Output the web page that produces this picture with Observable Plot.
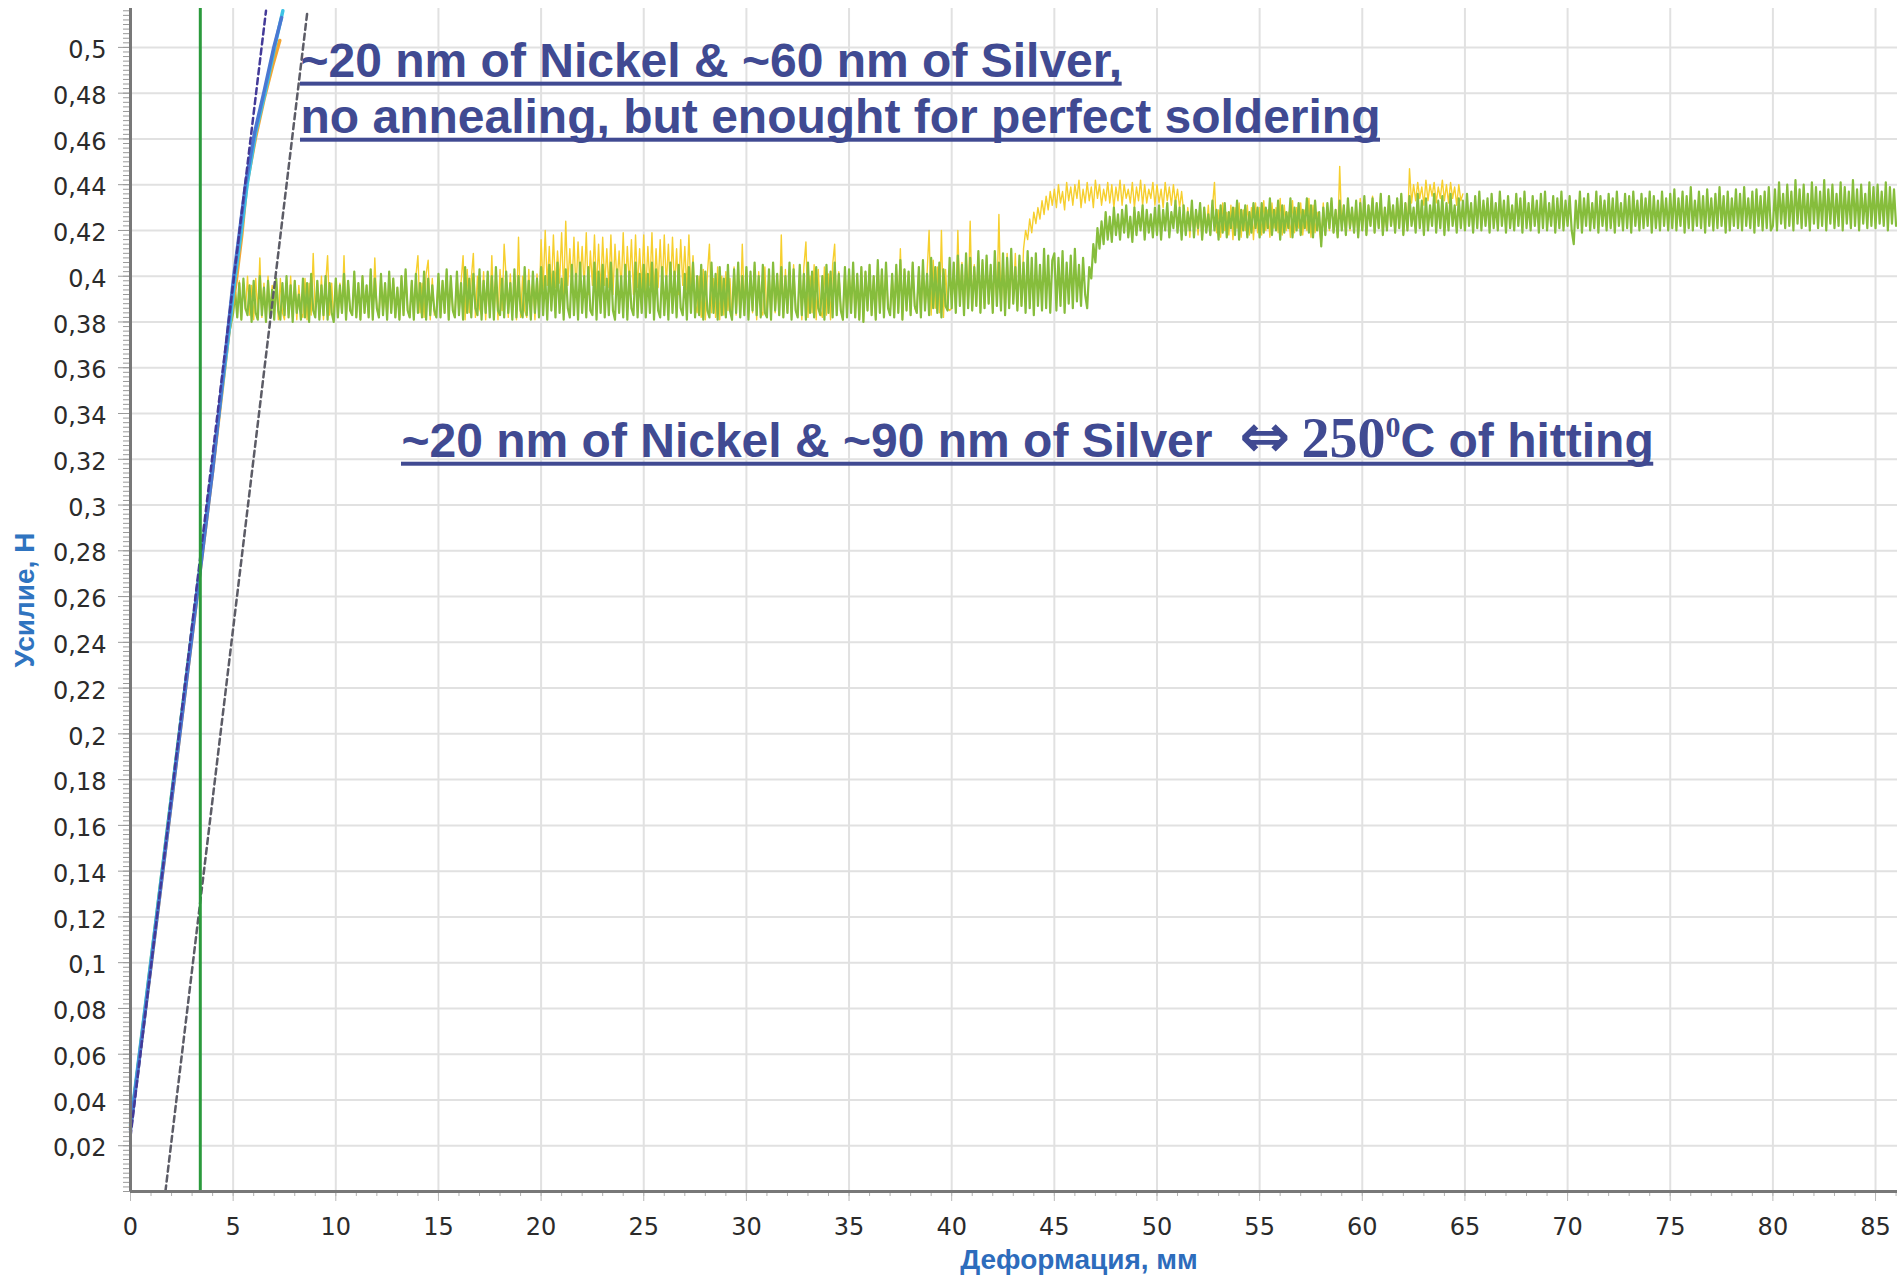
<!DOCTYPE html>
<html><head><meta charset="utf-8">
<script src="https://cdn.jsdelivr.net/npm/d3@7"></script>
<script src="https://cdn.jsdelivr.net/npm/@observablehq/plot@0.6"></script>
<style>
html,body{margin:0;padding:0;background:#fff;}
#chart{width:1897px;height:1275px;overflow:hidden;position:relative;}
</style></head><body><div id="chart"></div>
<script>
// ---------- tick values ----------
const xTicks = [0,5,10,15,20,25,30,35,40,45,50,55,60,65,70,75,80,85];
const yTicks = [0.02,0.04,0.06,0.08,0.1,0.12,0.14,0.16,0.18,0.2,0.22,0.24,0.26,0.28,0.3,0.32,0.34,0.36,0.38,0.4,0.42,0.44,0.46,0.48,0.5];
const xLabel = "Деформация, мм";
const yLabel = "Усилие, Н";

// ---------- rising (elastic) parts, x in mm, y in N ----------
const blueX   = [0,1,2,3,4,4.79,5.03,5.32,5.6,6.05,6.49,6.98,7.36];
const blueY   = [0.027,0.099,0.171,0.243,0.315,0.38,0.40,0.42,0.44,0.463,0.48,0.50,0.513];
const cyanX   = [0,1,2,3,4,4.85,5.1,5.4,5.68,6.1,6.55,7.02,7.42];
const cyanY   = [0.029,0.101,0.173,0.245,0.317,0.38,0.40,0.42,0.44,0.463,0.48,0.50,0.516];
const orangeX = [0,1,2,3,4,4.88,5.15,5.42,5.66,6.1,6.52,6.92,7.27];
const orangeY = [0.028,0.099,0.171,0.243,0.315,0.382,0.398,0.418,0.44,0.461,0.478,0.492,0.503];
const greenRiseX  = [0,1,2,3,4,4.7];
const greenRiseY  = [0.030,0.103,0.175,0.247,0.319,0.370];
const yellowRiseX = [0,1,2,3,4,4.75];
const yellowRiseY = [0.031,0.103,0.176,0.248,0.320,0.373];

// ---------- plateau samples (mN), first sample at 5.0 mm, every 0.1 mm ----------
const plateauStart = 5.0, plateauStep = 0.1;
const greenPlateauMilliN = [
384,393,382,397,381,399,386,383,396,380,398,384,381,400,383,395,380,398,382,394,381,399,385,381,397,383,400,382,396,380,398,384,392,381,399,382,397,380,401,385,382,398,381,396,383,400,381,397,384,380,
399,382,396,384,401,381,398,385,383,402,382,397,381,400,384,396,382,403,381,399,386,382,401,383,397,381,402,384,399,382,395,381,400,383,403,385,382,398,381,401,384,397,382,402,381,399,383,396,385,382,
401,382,398,384,403,381,400,385,382,402,383,397,381,404,384,399,382,401,386,383,403,381,398,384,402,382,400,381,404,385,383,399,382,402,384,397,381,403,382,400,385,382,404,383,398,381,402,384,399,382,
404,383,400,381,405,385,402,382,406,384,399,381,403,386,382,405,383,401,381,406,384,400,382,404,385,383,406,381,402,384,405,382,399,383,406,385,381,403,384,400,382,405,381,402,386,383,406,382,401,384,
405,382,401,384,406,381,403,385,382,404,383,400,381,406,384,402,382,405,386,383,401,381,404,384,406,382,400,383,405,381,402,385,382,406,384,401,381,404,383,399,382,405,385,381,403,384,406,382,400,383,
404,381,402,385,406,383,400,382,405,384,382,403,381,406,385,401,383,404,382,400,384,406,381,403,385,382,405,383,401,381,406,384,402,382,404,386,383,400,381,405,384,402,382,406,383,401,385,381,404,382,
403,384,406,382,401,381,404,380,402,385,405,383,400,381,407,384,403,382,406,386,383,401,382,405,384,407,381,403,385,402,383,406,387,384,404,382,407,385,401,383,408,386,404,384,406,382,403,387,385,408,
386,406,384,409,387,405,383,410,386,408,385,404,387,411,384,407,386,409,388,405,384,411,387,406,385,410,383,408,386,412,388,404,385,409,387,406,384,411,386,408,383,410,387,405,385,412,386,409,384,407,
410,385,408,387,411,384,406,388,409,386,412,389,405,387,408,392,386,404,399,414,406,421,412,424,414,428,416,426,415,430,418,427,416,429,419,431,417,426,415,430,418,428,420,431,416,429,419,427,417,430,
418,431,416,429,420,432,417,428,421,433,419,430,416,431,418,428,420,433,417,429,421,432,416,430,419,427,418,433,420,429,416,431,419,432,417,428,421,430,418,433,416,429,420,431,417,428,419,432,421,430,
417,432,419,430,421,434,418,429,420,433,416,431,419,428,421,434,417,430,420,432,418,429,421,434,419,431,417,433,420,428,413,430,418,432,421,434,419,429,417,433,420,431,418,434,421,430,419,433,417,432,
420,435,418,431,422,434,419,432,421,436,418,430,420,435,422,431,419,434,421,436,418,432,420,435,422,430,419,436,421,433,418,434,420,431,422,436,419,433,421,435,418,432,420,436,422,431,419,434,421,433,
420,436,422,432,419,435,421,437,420,433,422,434,419,436,421,432,420,437,422,433,419,435,421,431,420,436,422,434,419,437,421,432,420,435,422,433,419,436,421,437,420,432,422,435,419,434,421,437,420,433,
422,435,420,414,433,421,437,419,434,422,436,420,432,421,437,419,435,422,433,420,436,421,434,419,437,422,432,420,436,421,435,419,437,422,433,420,436,421,434,422,437,419,435,421,433,420,437,422,434,420,
436,421,438,420,434,422,437,419,435,421,439,420,433,422,437,421,435,419,438,422,434,420,436,421,439,422,435,419,437,420,434,422,438,421,436,420,439,422,434,421,437,419,438,422,435,420,437,421,439,420,
422,438,420,441,423,436,421,440,422,437,420,442,423,438,421,440,422,436,420,441,423,439,421,437,422,442,420,438,423,440,421,436,422,441,420,439,423,437,421,442,422,438,420,440,423,436,421,441,422,439,
421,440,423,437,422,441,420,439,423,438,422
];
const yellowPlateauMilliN = [
384,395,382,398,381,397,385,400,383,396,381,399,384,408,382,397,380,400,383,396,382,398,381,399,384,381,397,383,400,382,398,381,396,384,382,399,381,397,383,410,384,398,382,400,381,396,409,383,397,381,
399,382,397,384,409,381,398,385,383,401,382,397,381,400,384,396,382,402,381,408,386,382,400,383,397,381,401,384,399,382,395,381,400,383,402,385,382,398,381,400,409,384,397,382,401,407,381,399,383,385,
400,382,398,384,402,381,399,385,382,401,383,397,409,381,403,384,399,410,382,400,386,383,402,381,398,384,409,382,400,381,403,385,414,399,382,401,384,397,381,417,382,400,385,382,403,383,398,381,401,384,
416,394,420,396,413,393,418,395,411,397,419,392,424,396,412,394,417,393,415,397,413,395,419,392,411,396,418,394,414,393,417,396,412,395,418,392,414,397,411,394,419,393,413,396,416,392,418,395,412,394,
418,393,413,396,419,392,412,395,416,394,418,396,414,393,417,395,412,392,416,396,413,394,418,392,409,388,384,400,382,403,381,401,414,384,399,382,404,381,400,383,402,385,399,381,404,383,400,382,414,385,
403,382,400,384,405,381,402,385,383,404,382,401,381,405,384,400,383,418,382,403,384,401,382,405,385,383,402,381,404,415,382,400,384,405,381,403,385,382,404,383,401,381,405,414,383,402,385,381,404,382,
403,384,405,382,401,381,404,380,402,385,405,383,400,381,406,384,403,382,405,386,383,401,382,404,384,412,381,403,385,402,383,406,386,384,404,382,406,385,401,420,383,407,386,404,384,420,382,403,386,385,
386,405,384,420,387,406,383,409,386,424,385,405,387,410,384,406,386,408,388,404,384,409,387,427,385,408,383,410,386,406,388,410,385,407,387,412,420,416,425,419,428,423,430,425,433,427,435,429,437,431,
438,430,440,432,437,429,441,433,439,431,440,434,442,430,438,432,441,433,439,430,442,434,440,431,438,433,441,432,440,430,439,433,442,431,440,434,438,432,441,430,439,433,442,431,440,432,438,434,441,431,
440,432,438,430,441,433,439,431,440,432,438,430,437,428,419,430,417,431,420,428,418,432,416,429,420,431,418,430,441,419,429,417,432,420,428,418,431,416,430,421,432,417,429,420,431,418,430,416,432,419,
430,418,433,420,429,417,432,421,430,419,434,418,431,420,428,417,433,419,430,421,432,418,429,420,434,417,431,419,428,421,414,432,418,430,420,433,419,429,417,448,421,431,418,433,420,430,419,432,417,434,
420,434,418,431,422,435,419,432,421,436,418,430,420,435,422,431,419,434,421,436,418,432,420,447,432,440,433,441,434,439,431,442,433,440,435,441,432,439,434,442,433,440,432,441,434,439,431,440,433,436
];

// ---------- reference lines ----------
const purpleDashX = [0, 6.6],  purpleDashY = [0.024, 0.516];
const grayDashX   = [1.7, 8.62], grayDashY = [0, 0.516];
const markerLineX = [3.4];

// ---------- annotations ----------
const annot3Parts = ["~20 nm of Nickel & ~90 nm of Silver", "⇔", "250", "0", "C of hitting"];
const annotText = ["~20 nm of Nickel & ~60 nm of Silver,", "no annealing, but enought for perfect soldering",
  annot3Parts.join("")];
const annotX = [8.28, 8.28, 13.2];
const annotY = [0.487, 0.4625, 0.3209];

// ---------- build tables ----------
const pts = (xs, ys) => xs.map((x, i) => ({x, y: ys[i]}));
const plateau = (arr) => arr.map((v, i) => ({x: plateauStart + i * plateauStep, y: v / 1000}));
const greenData  = pts(greenRiseX, greenRiseY).concat(plateau(greenPlateauMilliN));
const yellowData = pts(yellowRiseX, yellowRiseY).concat(plateau(yellowPlateauMilliN));
const xMinor = d3.range(0, 87, 1);
const yMinor = d3.range(0, 0.517, 0.002);
const fmtY = d => d3.format(".2~f")(d).replace(".", ",");
const ANN = "#404a92";

const plot = Plot.plot({
  width: 1897, height: 1275,
  marginLeft: 130, marginRight: 0, marginTop: 8, marginBottom: 84,
  x: {domain: [0, 86.07], axis: null, label: null},
  y: {domain: [0, 0.517], axis: null, label: null},
  style: {background: "#ffffff", fontFamily: "DejaVu Sans", overflow: "visible"},
  marks: [
    Plot.ruleX(xTicks, {stroke: "#e1e1e1", strokeWidth: 2}),
    Plot.ruleY(yTicks, {stroke: "#e1e1e1", strokeWidth: 2}),
    Plot.line(yellowData, {x: "x", y: "y", stroke: "#f6cf2e", strokeWidth: 1.4}),
    Plot.line(greenData, {x: "x", y: "y", stroke: "#86bd3c", strokeWidth: 2.2}),
    Plot.line(pts(orangeX, orangeY), {x: "x", y: "y", stroke: "#f2a534", strokeWidth: 3.5}),
    Plot.line(pts(cyanX, cyanY), {x: "x", y: "y", stroke: "#3cc3e6", strokeWidth: 3.5}),
    Plot.line(pts(blueX, blueY), {x: "x", y: "y", stroke: "#4a78d2", strokeWidth: 3.5}),
    Plot.line(pts(purpleDashX, purpleDashY), {x: "x", y: "y", stroke: "#433a98", strokeWidth: 2.5, strokeDasharray: "6,4"}),
    Plot.line(pts(grayDashX, grayDashY), {x: "x", y: "y", stroke: "#5c5c66", strokeWidth: 2.5, strokeDasharray: "6,4"}),
    Plot.ruleX(markerLineX, {stroke: "#2b9a3c", strokeWidth: 3}),
    // axes
    Plot.axisY(yMinor, {anchor: "left", tickSize: 7, tickFormat: () => "", stroke: "#9a9a9a", label: null}),
    Plot.axisY(yTicks, {anchor: "left", tickSize: 12, tickFormat: () => "", stroke: "#9a9a9a", label: null}),
    Plot.axisY(yTicks, {anchor: "left", tickSize: 0, tickPadding: 24, tickFormat: fmtY, fontSize: 24, color: "#2b2b2b", dy: 3, label: null}),
    Plot.axisX(xMinor, {anchor: "bottom", tickSize: 5, tickFormat: () => "", stroke: "#b0b0b0", label: null}),
    Plot.axisX(xTicks, {anchor: "bottom", tickSize: 10, tickFormat: () => "", stroke: "#b8b8b8", label: null}),
    Plot.axisX(xTicks, {anchor: "bottom", tickSize: 0, tickPadding: 26, tickFormat: d => String(d), fontSize: 24, color: "#2b2b2b", label: null}),
    Plot.ruleX([0], {stroke: "#787878", strokeWidth: 3}),
    Plot.ruleY([0], {stroke: "#787878", strokeWidth: 3}),
    // axis titles
    Plot.text([yLabel], {frameAnchor: "left", textAnchor: "middle", lineAnchor: "middle", rotate: -90, dx: -105,
      fontSize: 28, fontWeight: "bold", fontFamily: "Liberation Sans", fill: "#2f74c0"}),
    Plot.text([xLabel], {frameAnchor: "bottom", textAnchor: "middle", dx: 65, dy: 77, lineAnchor: "bottom", fontSize: 28, fontWeight: "bold",
      fontFamily: "Liberation Sans", fill: "#2d6cbc"}),
    // annotations
    Plot.text(annotText.map((t, i) => ({t, x: annotX[i], y: annotY[i]})), {x: "x", y: "y", text: "t",
      textAnchor: "start", lineAnchor: "bottom", fontSize: 48, fontWeight: "bold", fontFamily: "Liberation Sans", fill: ANN})
  ]
});

document.getElementById("chart").appendChild(plot);

// rich text + underline for the annotations
const sx = d3.scaleLinear(plot.scale("x").domain, plot.scale("x").range);
const sy = d3.scaleLinear(plot.scale("y").domain, plot.scale("y").range);
const allText = Array.from(plot.querySelectorAll("text"));
annotText.forEach((s, i) => {
  const el = allText.find(e => e.textContent === s);
  if (!el) return;
  if (i === 2) {
    el.textContent = "";
    const t = d3.select(el);
    t.append("tspan").text(annot3Parts[0] + "\u00a0\u00a0");
    t.append("tspan").attr("font-family", "DejaVu Sans").attr("font-weight", "bold").attr("font-size", 61).text(annot3Parts[1]);
    t.append("tspan").attr("font-family", "Liberation Serif").attr("font-weight", "bold").attr("font-size", 56).text("\u2009" + annot3Parts[2]);
    t.append("tspan").attr("font-family", "Liberation Serif").attr("font-weight", "bold").attr("font-size", 30).attr("dy", -20).text(annot3Parts[3]);
    t.append("tspan").attr("dy", 20).text(annot3Parts[4]);
  }
  const len = el.getComputedTextLength();
  d3.select(plot).append("rect")
    .attr("x", sx(annotX[i])).attr("y", sy(annotY[i]) + 5)
    .attr("width", len).attr("height", 4).attr("fill", ANN);
});
</script></body></html>
